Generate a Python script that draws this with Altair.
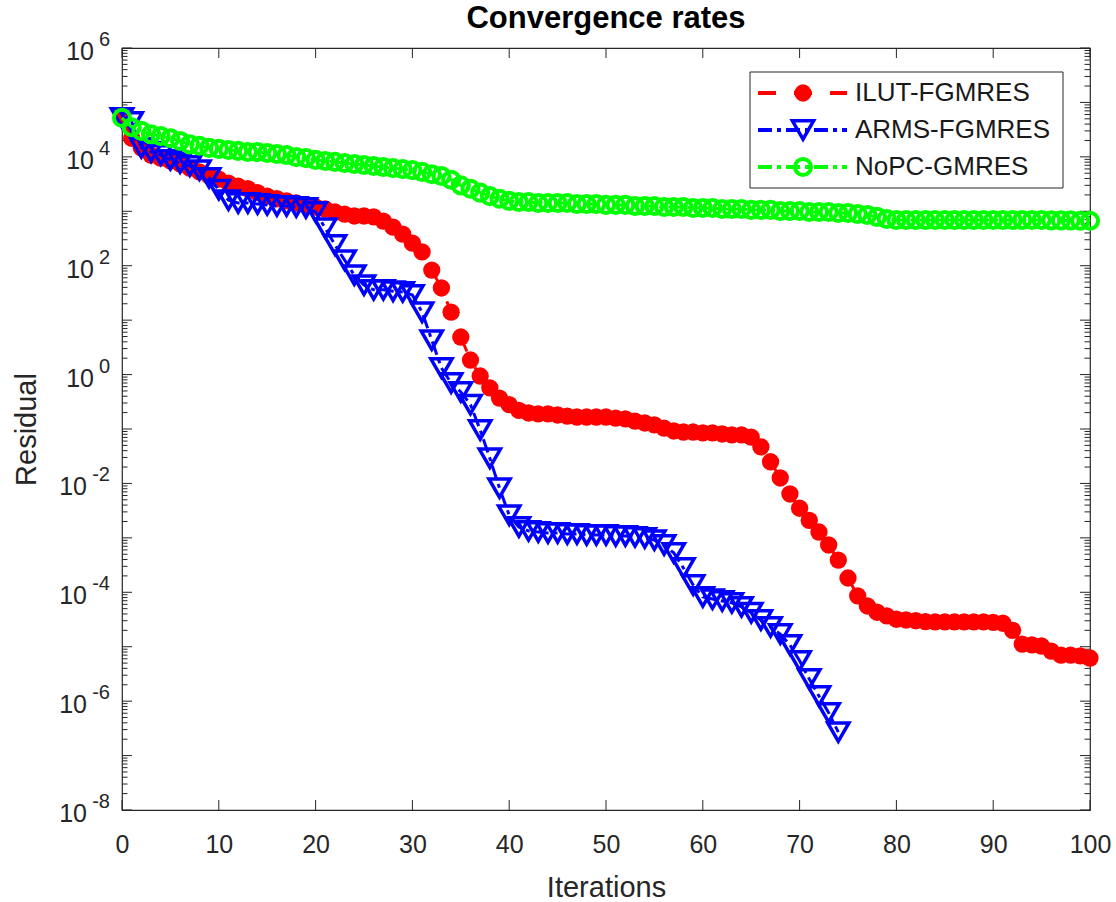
import altair as alt
import pandas as pd

# ---------------- data: residual history per solver ----------------
ilut_iters = list(range(0, 101))
arms_iters = list(range(0, 75))
nopc_iters = list(range(0, 101))

ilut_fgmres = [
    5.2e4, 2.2e4, 1.46e4, 1.08e4, 9.5e3, 8.4e3, 7.4e3, 6.2e3, 5.3e3, 4.45e3,
    3.9e3, 3.3e3, 2.9e3, 2.6e3, 2.2e3, 1.9e3, 1.7e3, 1.55e3, 1.42e3, 1.31e3,
    1.2e3, 1.1e3, 970, 890, 820, 820, 790, 660, 510, 380,
    260, 180, 83, 39, 14, 4.9, 1.85, 0.94, 0.57, 0.37,
    0.28, 0.22, 0.197, 0.189, 0.189, 0.181, 0.173, 0.166, 0.166, 0.166,
    0.166, 0.159, 0.153, 0.140, 0.129, 0.119, 0.104, 0.092, 0.088, 0.088,
    0.085, 0.085, 0.081, 0.078, 0.078, 0.071, 0.047, 0.025, 0.0126, 0.0064,
    0.0035, 0.0021, 1.28e-3, 7.4e-4, 3.9e-4, 1.83e-4, 8.6e-5, 5.6e-5, 4.3e-5, 3.7e-5,
    3.2e-5, 3.1e-5, 3.0e-5, 2.9e-5, 2.85e-5, 2.85e-5, 2.85e-5, 2.85e-5, 2.85e-5, 2.85e-5,
    2.8e-5, 2.7e-5, 2.0e-5, 1.12e-5, 1.08e-5, 1.03e-5, 8.3e-6, 7.0e-6, 7.0e-6, 6.8e-6,
    6.2e-6,
]

arms_fgmres = [
    5.2e4, 4.4e4, 1.46e4, 1.23e4, 1.08e4, 8.8e3, 7.7e3, 6.8e3, 5.7e3, 4.1e3,
    2.5e3, 1.6e3, 1.42e3, 1.42e3, 1.36e3, 1.31e3, 1.25e3, 1.25e3, 1.2e3, 1.15e3,
    970, 490, 240, 127, 67, 44, 36, 36, 34, 33,
    29, 14, 4.3, 1.32, 0.70, 0.48, 0.28, 0.096, 0.029, 0.0082,
    0.0026, 1.58e-3, 1.34e-3, 1.28e-3, 1.23e-3, 1.23e-3, 1.18e-3, 1.18e-3, 1.13e-3, 1.13e-3,
    1.13e-3, 1.08e-3, 1.08e-3, 1.04e-3, 9.95e-4, 9.1e-4, 7.4e-4, 5.3e-4, 2.8e-4, 1.36e-4,
    8.2e-5, 7.5e-5, 6.9e-5, 6.4e-5, 5.4e-5, 4.2e-5, 3.1e-5, 2.3e-5, 1.71e-5, 1.08e-5,
    5.5e-6, 2.55e-6, 1.24e-6, 6.1e-7, 2.7e-7,
]

nopc_gmres = [
    5.2e4, 3.5e4, 3.0e4, 2.6e4, 2.4e4, 2.2e4, 1.96e4, 1.7e4, 1.6e4, 1.46e4,
    1.4e4, 1.34e4, 1.29e4, 1.23e4, 1.23e4, 1.18e4, 1.13e4, 1.08e4, 9.9e3, 9.5e3,
    8.8e3, 8.4e3, 8.1e3, 7.7e3, 7.4e3, 7.1e3, 6.8e3, 6.5e3, 6.2e3, 5.95e3,
    5.7e3, 5.3e3, 4.8e3, 4.45e3, 3.8e3, 3.0e3, 2.6e3, 2.2e3, 1.9e3, 1.7e3,
    1.55e3, 1.48e3, 1.48e3, 1.42e3, 1.42e3, 1.42e3, 1.42e3, 1.36e3, 1.36e3, 1.36e3,
    1.31e3, 1.31e3, 1.31e3, 1.25e3, 1.25e3, 1.25e3, 1.2e3, 1.2e3, 1.2e3, 1.15e3,
    1.15e3, 1.15e3, 1.1e3, 1.1e3, 1.1e3, 1.06e3, 1.06e3, 1.06e3, 1.01e3, 1.01e3,
    1.01e3, 970, 970, 970, 930, 930, 890, 855, 790, 720,
    690, 690, 690, 690, 690, 690, 690, 690, 690, 690,
    690, 690, 690, 690, 690, 690, 680, 680, 680, 670,
    670,
]

series_names = ["ILUT-FGMRES", "ARMS-FGMRES", "NoPC-GMRES"]
x_ticks = list(range(0, 101, 10))
y_label_exponents = [6, 4, 2, 0, -2, -4, -6, -8]
chart_title = "Convergence rates"

# ---------------- layout / style ----------------
W, H = 968, 762
FONT = "Liberation Sans"
TXT = "#262626"
RED, BLUE, GREEN = "#ff0000", "#0000ff", "#00ff00"
DASHED = [18, 18]
DASHDOT = [14, 5, 4, 5]

x_scale = alt.Scale(domain=[0, 100], nice=False, zero=False)
y_scale = alt.Scale(type="log", domain=[1e-8, 1e6], nice=False)

x_axis = alt.Axis(
    values=x_ticks, ticks=False, domain=False, grid=False,
    labelFontSize=25, labelPadding=22, labelColor=TXT, labelFont=FONT,
    labelFlush=False, labelOverlap=False,
    title="Iterations", titleFontSize=29, titleFontWeight="normal",
    titleColor=TXT, titleFont=FONT, titlePadding=16,
)
y_axis = alt.Axis(
    labels=False, ticks=False, domain=False, grid=False,
    title="Residual", titleFontSize=29, titleFontWeight="normal",
    titleColor=TXT, titleFont=FONT, titlePadding=81,
)


def X(field):
    return alt.X(f"{field}:Q", scale=x_scale, axis=x_axis)


def Y(field):
    return alt.Y(f"{field}:Q", scale=y_scale, axis=y_axis)


layers = []

# ---------------- inward tick marks on all four sides ----------------
ytick_major = pd.DataFrame({"v": [10.0 ** k for k in range(-8, 7)]})
ytick_minor = pd.DataFrame({"v": [m * 10.0 ** k for k in range(-8, 6) for m in range(2, 10)]})
xtick_df = pd.DataFrame({"v": x_ticks})

for df, length in ((ytick_major, 10), (ytick_minor, 5.5)):
    layers.append(alt.Chart(df).mark_rule(color=TXT, strokeWidth=1).encode(
        y=Y("v"), x=alt.value(0), x2=alt.value(length)))
    layers.append(alt.Chart(df).mark_rule(color=TXT, strokeWidth=1).encode(
        y=Y("v"), x=alt.value(W - length), x2=alt.value(W)))
layers.append(alt.Chart(xtick_df).mark_rule(color=TXT, strokeWidth=1).encode(
    x=X("v"), y=alt.value(H), y2=alt.value(H - 10)))
layers.append(alt.Chart(xtick_df).mark_rule(color=TXT, strokeWidth=1).encode(
    x=X("v"), y=alt.value(0), y2=alt.value(10)))

# ---------------- y tick labels as 10 with a raised exponent ----------------
ylab_df = pd.DataFrame({
    "value": [10.0 ** e for e in y_label_exponents],
    "exp": [str(e) for e in y_label_exponents],
})
ylab = alt.Chart(ylab_df)
layers.append(ylab.transform_filter("length(datum.exp) == 1").mark_text(
    align="right", baseline="middle", fontSize=25, font=FONT, color=TXT, dy=4
).encode(x=alt.value(-28), y=Y("value"), text=alt.value("10")))
layers.append(ylab.transform_filter("length(datum.exp) > 1").mark_text(
    align="right", baseline="middle", fontSize=25, font=FONT, color=TXT, dy=4
).encode(x=alt.value(-35), y=Y("value"), text=alt.value("10")))
layers.append(ylab.mark_text(
    align="right", baseline="middle", fontSize=20, font=FONT, color=TXT, dy=-8
).encode(x=alt.value(-12), y=Y("value"), text="exp:N"))

# ---------------- solver curves ----------------
point_styles = [
    dict(shape="circle", filled=True, color=RED, size=300, opacity=1, strokeWidth=0),
    dict(shape="triangle-down", filled=False, color=BLUE, size=450, opacity=1, strokeWidth=3.5),
    dict(shape="circle", filled=False, color=GREEN, size=260, opacity=1, strokeWidth=4),
]
line_styles = [(RED, DASHED), (BLUE, DASHDOT), (GREEN, DASHDOT)]
series_data = [
    (ilut_iters, ilut_fgmres),
    (arms_iters, arms_fgmres),
    (nopc_iters, nopc_gmres),
]

for (iters, vals), (lc, dash), pstyle in zip(series_data, line_styles, point_styles):
    df = pd.DataFrame({"iteration": iters, "residual": vals})
    base = alt.Chart(df).encode(x=X("iteration"), y=Y("residual"))
    layers.append(base.mark_line(color=lc, strokeWidth=3, strokeDash=dash))
    layers.append(base.mark_point(**pstyle))

# ---------------- legend box ----------------
one = pd.DataFrame({"k": [0]})
layers.append(alt.Chart(one).mark_rect(fill="white", stroke=TXT, strokeWidth=1).encode(
    x=alt.value(628), x2=alt.value(941), y=alt.value(24), y2=alt.value(140)))
for k, (name, (lc, dash), pstyle) in enumerate(zip(series_names, line_styles, point_styles)):
    ry = 45 + 37 * k
    row = alt.Chart(pd.DataFrame({"name": [name]}))
    layers.append(row.mark_rule(color=lc, strokeWidth=4, strokeDash=dash).encode(
        x=alt.value(636), x2=alt.value(725), y=alt.value(ry)))
    layers.append(row.mark_point(**pstyle).encode(x=alt.value(681), y=alt.value(ry)))
    layers.append(row.mark_text(
        align="left", baseline="middle", fontSize=26, font=FONT, color="#1a1a1a"
    ).encode(x=alt.value(733), y=alt.value(ry), text="name:N"))

# ---------------- title above the axes box ----------------
layers.append(alt.Chart(pd.DataFrame({"t": [chart_title]})).mark_text(
    align="center", baseline="middle", fontSize=31, fontWeight="bold", font=FONT, color="#000000"
).encode(x=alt.value(W / 2), y=alt.value(-29), text="t:N"))

chart = alt.layer(*layers).properties(
    width=W,
    height=H,
    padding={"left": 122, "top": 48, "right": 1116 - 122 - W, "bottom": 902 - 48 - H},
    autosize=alt.AutoSizeParams(type="none"),
    background="white",
).configure_view(stroke=TXT, strokeWidth=1.2)

chart.save("out.html", embed_options={"renderer": "svg", "actions": False})
